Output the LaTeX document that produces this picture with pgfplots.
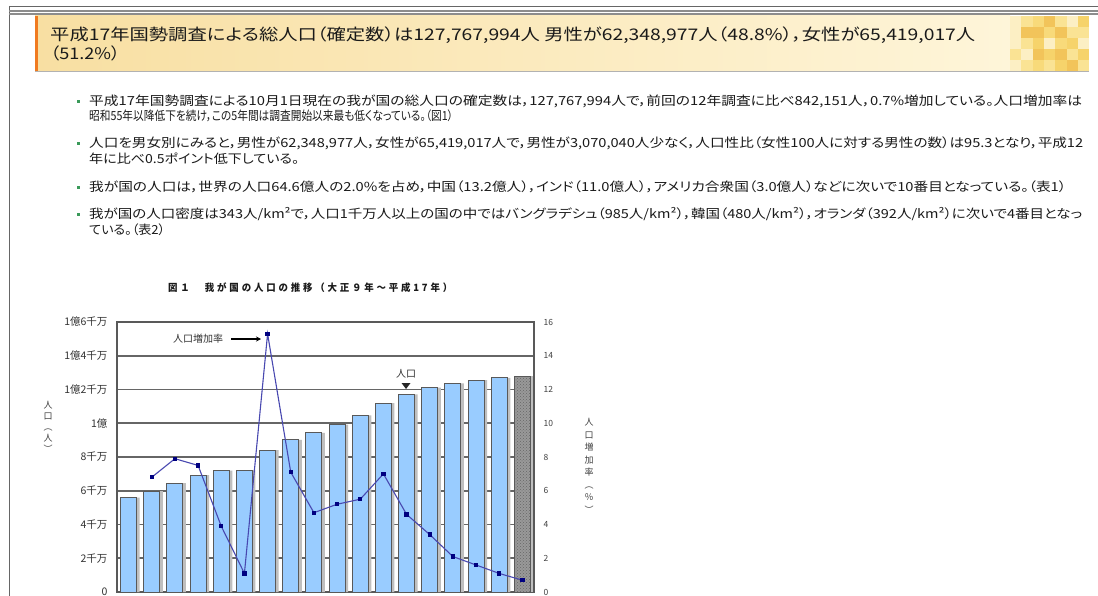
\documentclass[border=0pt]{standalone}
\usepackage{fontspec}
\setmainfont{Noto Sans CJK JP}
\newfontfamily\pfont[RawFeature=+palt]{Noto Sans CJK JP}
\usepackage{graphicx}
\usepackage{pgfplots}
\usepackage{pgfplotstable}
\pgfplotsset{compat=1.18}
\usetikzlibrary{patterns,arrows.meta}

\definecolor{barblue}{HTML}{99CCFF}
\definecolor{linecol}{HTML}{4848B0}
\definecolor{markcol}{HTML}{000080}
\definecolor{gridgray}{HTML}{666666}
\definecolor{hdrA}{HTML}{F8DFA2}
\definecolor{hdrB}{HTML}{FEF5D9}
\definecolor{orangeb}{HTML}{F07A20}
\definecolor{bulletg}{HTML}{3A9A5A}
\definecolor{txt}{HTML}{1A1A1A}
\definecolor{m1}{HTML}{F6D36B}
\definecolor{m2}{HTML}{F2C45A}
\definecolor{m3}{HTML}{FAE394}
\definecolor{m4}{HTML}{FCEFC4}
\definecolor{m5}{HTML}{F8DA7A}

% population (10,000 persons), 1920-2005
\pgfplotstableread{
x pop
0 5596
1 5974
2 6445
3 6925
4 7193
5 7215
6 8412
7 9008
8 9434
9 9921
10 10467
11 11194
12 11706
13 12105
14 12361
15 12557
16 12693
}\popdata

% growth rate (%)
\pgfplotstableread{
x rate
1 6.8
2 7.9
3 7.5
4 3.9
5 1.1
6 15.3
7 7.1
8 4.7
9 5.2
10 5.5
11 7.0
12 4.6
13 3.4
14 2.1
15 1.6
16 1.1
17 0.7
}\ratedata

% text line: baseline y, width, text (natural height, width fitted)
\newcommand{\bline}[3]{\node[anchor=base west,inner sep=0,text=txt] at (89pt,-#1pt) {\resizebox{#2pt}{\height}{\pfont\fontsize{12.5}{13}\selectfont #3}};}
\newcommand{\bmark}[1]{\fill[bulletg] (77pt,-#1pt) rectangle (80pt,-#1pt-3pt);}

\begin{document}
\begin{tikzpicture}
\useasboundingbox (0,0) rectangle (1098pt,-596pt);
\fill[white] (0,0) rectangle (1098pt,-596pt);

% page frame
\draw[black!60, line width=0.8pt] (9pt,-6pt) -- (1098pt,-6pt);
\draw[black!60, line width=0.8pt] (9pt,-6pt) -- (9pt,-596pt);
\fill[black!45] (9pt,-10pt) rectangle (1098pt,-12pt);
\fill[black!45] (9pt,-13pt) rectangle (1098pt,-15pt);

% header box
\shade[left color=hdrA, right color=hdrB] (35pt,-16pt) rectangle (1010pt,-71pt);
\foreach \r/\row in {0/{m4,m3,m5,m2,m3,m4,m1},1/{m4,m2,m2,m5,m2,m3,m3},2/{m4,m3,m1,m4,m5,m1,m4},3/{m3,m4,m2,m1,m2,m3,m1},4/{m4,m3,m5,m3,m1,m2,m3}}{
  \foreach \c [count=\i from 0] in \row {
    \fill[\c] (1010pt+\i*11.3pt,-16pt-\r*11pt) rectangle (1010pt+\i*11.3pt+11.3pt,-27pt-\r*11pt);
  }
}
\fill[orangeb] (35pt,-16pt) rectangle (38pt,-71pt);
\draw[black!30, line width=0.8pt] (35pt,-71pt) -- (1089pt,-71pt);
\node[anchor=base west,inner sep=0,text=txt] at (50pt,-41pt) {\resizebox{925pt}{\height}{\pfont\fontsize{16}{17}\selectfont 平成17年国勢調査による総人口（確定数）は127,767,994人 男性が62,348,977人（48.8\%），女性が65,419,017人}};
\node[anchor=base west,inner sep=0,text=txt] at (50pt,-60pt) {\resizebox{70pt}{\height}{\pfont\fontsize{16}{17}\selectfont （51.2\%）}};

% bullets
\bmark{100}
\bline{106}{993}{平成17年国勢調査による10月1日現在の我が国の総人口の確定数は，127,767,994人で，前回の12年調査に比べ842,151人，0.7\%増加している。人口増加率は}
\bline{121}{364}{昭和55年以降低下を続け，この5年間は調査開始以来最も低くなっている。（図1）}
\bmark{142}
\bline{148}{994}{人口を男女別にみると，男性が62,348,977人，女性が65,419,017人で，男性が3,070,040人少なく，人口性比（女性100人に対する男性の数）は95.3となり，平成12}
\bline{164}{210}{年に比べ0.5ポイント低下している。}
\bmark{186}
\bline{192}{977}{我が国の人口は，世界の人口64.6億人の2.0\%を占め，中国（13.2億人），インド（11.0億人），アメリカ合衆国（3.0億人）などに次いで10番目となっている。（表1）}
\bmark{213}
\bline{219}{993}{我が国の人口密度は343人/km²で，人口1千万人以上の国の中ではバングラデシュ（985人/km²），韓国（480人/km²），オランダ（392人/km²）に次いで4番目となっ}
\bline{235}{76}{ている。（表2）}

% chart title
\node[anchor=base west,inner sep=0,text=txt] at (168pt,-291pt) {\resizebox{284pt}{\height}{\fontsize{10}{11}\selectfont\bfseries\addfontfeature{LetterSpace=30}図１　我が国の人口の推移（大正９年～平成17年）}};

\begin{axis}[
  at={(117pt,-592pt)}, anchor=south west,
  scale only axis, width=417pt, height=270pt,
  xmin=-0.5, xmax=17.5, ymin=0, ymax=16000,
  xtick=\empty,
  ytick={0,2000,4000,6000,8000,10000,12000,14000,16000},
  scaled y ticks=false,
  yticklabels={0,2千万,4千万,6千万,8千万,1億,1億2千万,1億4千万,1億6千万},
  yticklabel style={font=\fontsize{10.5}{11}\selectfont, text=black!80, xshift=-6pt},
  major tick length=0pt,
  ymajorgrids,
  grid style={draw=gridgray, line width=1.6pt},
  axis line style={draw=black!65, line width=1.4pt},
]
\addplot[ybar, bar width=16pt, bar shift=3pt, fill=black!25, draw=none] table[x=x,y=pop] {\popdata};
\addplot[ybar, bar width=16pt, bar shift=3pt, fill=black!25, draw=none] coordinates {(17,12777)};
\addplot[ybar, bar width=16pt, bar shift=0pt, fill=barblue, draw=black!65, line width=1pt] table[x=x,y=pop] {\popdata};
\addplot[ybar, bar width=16pt, bar shift=0pt, fill=black!40, draw=black!65, line width=1pt,
  postaction={pattern=crosshatch dots, pattern color=black!60}] coordinates {(17,12777)};
\end{axis}

\begin{axis}[
  at={(117pt,-592pt)}, anchor=south west,
  scale only axis, width=417pt, height=270pt,
  xmin=-0.5, xmax=17.5, ymin=0, ymax=16,
  axis x line=none, axis y line*=right,
  axis line style={draw=none},
  ytick={0,2,...,16},
  /pgf/number format/assume math mode=true,
  yticklabel style={font=\fontsize{8.5}{9}\selectfont, text=black!75, xshift=6pt},
  major tick length=0pt,
]
\addplot[color=linecol, line width=1.1pt, mark=square*, mark size=1.6pt,
  mark options={fill=markcol, draw=markcol}] table[x=x,y=rate] {\ratedata};
\end{axis}

% axis titles (vertical)
\node[font=\fontsize{9}{11}\selectfont, align=center, inner sep=0, text=black!75] at (48pt,-427pt) {人\\口\\︵\\人\\︶};
\node[font=\fontsize{9}{12.5}\selectfont, align=center, inner sep=0, text=black!75] at (589pt,-466pt) {人\\口\\増\\加\\率\\︵\\％\\︶};

% annotations
\node[anchor=west, inner sep=0, font=\fontsize{10}{10}\selectfont, text=black!80] at (173pt,-339pt) {人口増加率};
\draw[-{Stealth[length=5pt,width=5pt]}, line width=1.4pt] (231pt,-339pt) -- (261pt,-339pt);
\node[inner sep=0, font=\fontsize{10}{10}\selectfont, text=black!80] at (406pt,-374pt) {人口};
\fill[black!85] (401.5pt,-383pt) -- (410.5pt,-383pt) -- (406pt,-389pt) -- cycle;
\end{tikzpicture}
\end{document}
